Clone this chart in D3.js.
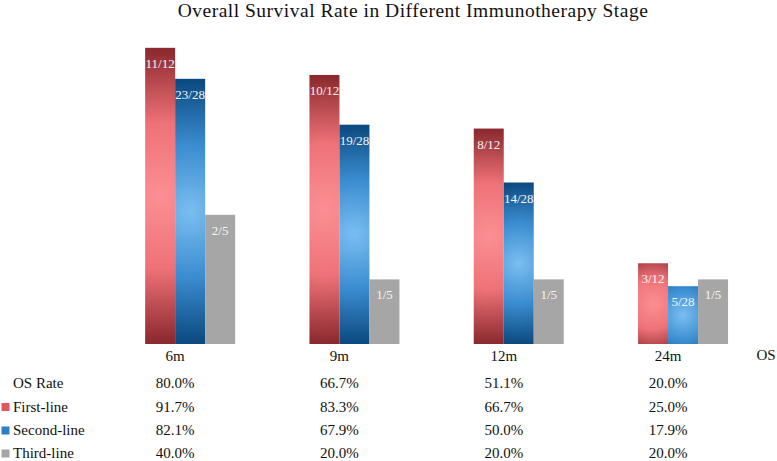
<!DOCTYPE html>
<html>
<head>
<meta charset="utf-8">
<script src="https://cdn.jsdelivr.net/npm/d3@7"></script>
<style>
  html, body { margin: 0; padding: 0; background: #fff; }
</style>
</head>
<body>
<svg id="chart" width="777" height="461"></svg>
<script>
const categories = ['6m', '9m', '12m', '24m'];
const seriesNames = ['First-line', 'Second-line', 'Third-line'];
const firstLine = [0.917, 0.833, 0.667, 0.25];
const secondLine = [0.821, 0.679, 0.50, 0.179];
const thirdLine = [0.40, 0.20, 0.20, 0.20];
const firstLabels = ['11/12', '10/12', '8/12', '3/12'];
const secondLabels = ['23/28', '19/28', '14/28', '5/28'];
const thirdLabels = ['2/5', '1/5', '1/5', '1/5'];
const osRate = [0.80, 0.667, 0.511, 0.20];

const FONT = "'Liberation Serif', 'Times New Roman', Times, 'DejaVu Serif', serif";
const svg = d3.select('#chart').style('font-family', FONT);
const defs = svg.append('defs');

const gradStops = [
  [['0%', '#fb8f93'], ['50%', '#ee7277'], ['100%', '#8c2a2f']],
  [['0%', '#7abef0'], ['50%', '#3b8dd1'], ['100%', '#0c4a80']],
  null
];
const legendColor = ['#e2575e', '#2d7fc6', '#a6a6a6'];

const x = d3.scaleBand().domain(categories).range([93, 750.2]).paddingInner(0).paddingOuter(0);
const xs = d3.scaleBand().domain(seriesNames).range([-30, 60]).padding(0);
const y = d3.scaleLinear().domain([0, 1]).range([344, 21]);

function txt(sel) { return sel.style('font-family', FONT); }

// title
txt(svg.append('text'))
  .attr('x', 413).attr('y', 17)
  .attr('text-anchor', 'middle')
  .attr('font-size', 19.5)
  .attr('letter-spacing', 0.5)
  .attr('fill', '#111')
  .text('Overall Survival Rate in Different Immunotherapy Stage');

const data = categories.map((c, i) => ({
  cat: c,
  vals: [
    { s: seriesNames[0], v: firstLine[i], lab: firstLabels[i], k: 0, i },
    { s: seriesNames[1], v: secondLine[i], lab: secondLabels[i], k: 1, i },
    { s: seriesNames[2], v: thirdLine[i], lab: thirdLabels[i], k: 2, i }
  ]
}));

// per-bar radial gradients (circular, centred on the bar, in the group's local space)
data.forEach(g => {
  g.vals.forEach(d => {
    if (!gradStops[d.k]) return;
    const w = xs.bandwidth();
    const h = y(0) - y(d.v);
    const cx = xs(d.s) + w / 2;
    const cy = y(d.v) + h / 2;
    const r = Math.max(Math.sqrt(w * w + h * h) / 2 * 0.98, 52);
    const lg = defs.append('radialGradient')
      .attr('id', `g${d.k}_${d.i}`)
      .attr('gradientUnits', 'userSpaceOnUse')
      .attr('cx', cx).attr('cy', cy).attr('r', r).attr('fx', cx).attr('fy', cy);
    gradStops[d.k].forEach(s => lg.append('stop').attr('offset', s[0]).attr('stop-color', s[1]));
  });
});

const groups = svg.selectAll('g.grp').data(data).join('g')
  .attr('class', 'grp')
  .attr('transform', d => `translate(${x(d.cat) + x.bandwidth() / 2},0)`);

groups.selectAll('rect').data(d => d.vals).join('rect')
  .attr('x', d => xs(d.s))
  .attr('y', d => y(d.v))
  .attr('width', xs.bandwidth())
  .attr('height', d => y(0) - y(d.v))
  .attr('fill', d => gradStops[d.k] ? `url(#g${d.k}_${d.i})` : '#a6a6a6');

txt(groups.selectAll('text.lab').data(d => d.vals).join('text'))
  .attr('class', 'lab')
  .attr('x', d => xs(d.s) + xs.bandwidth() / 2)
  .attr('y', d => y(d.v) + 20)
  .attr('text-anchor', 'middle')
  .attr('font-size', 13)
  .attr('fill', '#f4f4f4')
  .text(d => d.lab);

// category axis (no line)
const xAxis = d3.axisBottom(x).tickSize(0).tickPadding(0);
const axG = svg.append('g').attr('transform', 'translate(0,347)').call(xAxis);
axG.attr('font-family', null);
axG.select('.domain').remove();
txt(axG.selectAll('text'))
  .attr('font-size', 15).attr('fill', '#111').attr('dy', '0.9em');

txt(svg.append('text')).attr('x', 766).attr('y', 360).attr('text-anchor', 'middle')
  .attr('font-size', 15).attr('fill', '#111').text('OS');

// table
const fmt = d3.format('.1%');
const rowY = [388, 411.5, 435, 458];
const rows = [
  { name: 'OS Rate', vals: osRate, color: null },
  { name: seriesNames[0], vals: firstLine, color: legendColor[0] },
  { name: seriesNames[1], vals: secondLine, color: legendColor[1] },
  { name: seriesNames[2], vals: thirdLine, color: legendColor[2] }
];
rows.forEach((r, ri) => {
  const yy = rowY[ri];
  if (r.color) {
    svg.append('rect').attr('x', 1.5).attr('y', yy - 8.5).attr('width', 8).attr('height', 8)
      .attr('fill', r.color);
  }
  txt(svg.append('text')).attr('x', 13).attr('y', yy).attr('font-size', 15).attr('fill', '#111').text(r.name);
  categories.forEach((c, ci) => {
    txt(svg.append('text'))
      .attr('x', x(c) + x.bandwidth() / 2)
      .attr('y', yy)
      .attr('text-anchor', 'middle')
      .attr('font-size', 15).attr('fill', '#111')
      .text(fmt(r.vals[ci]));
  });
});
</script>
</body>
</html>
